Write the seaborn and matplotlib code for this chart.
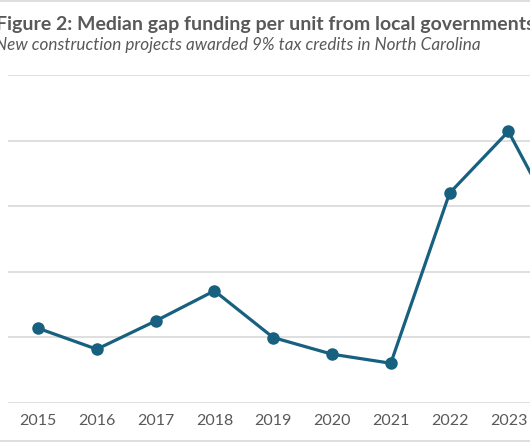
import matplotlib
matplotlib.use("Agg")
import matplotlib.pyplot as plt
from matplotlib.lines import Line2D
import pandas as pd
import seaborn as sns

# values (y axis labels are cropped away; assumed $5,000 grid steps)
years = [2015, 2016, 2017, 2018, 2019, 2020, 2021, 2022, 2023, 2024]
median_gap = [5700, 4100, 6250, 8550, 4990, 3720, 3030, 16000, 20700, 12300]
# 2024 falls past the right edge of the crop, so only these labels show
tick_years = [2015, 2016, 2017, 2018, 2019, 2020, 2021, 2022, 2023]
tick_labels = ["2015", "2016", "2017", "2018", "2019", "2020", "2021", "2022", "2023"]

title = "Figure 2: Median gap funding per unit from local governments"
subtitle = "New construction projects awarded 9% tax credits in North Carolina"

LINE = "#17607f"
GRID = "#d9d9d9"
TEXT = "#595959"

def main():
    sns.set_style("white")
    plt.rcParams['font.family'] = ['Lato', 'DejaVu Sans']

    df = pd.DataFrame({"year": years, "value": median_gap})

    W, H = 530, 442
    fig = plt.figure(figsize=(W / 100, H / 100), dpi=100)

    # axes run past the right edge, like the cropped original
    ax = fig.add_axes([8 / W, 39 / H, 588.6 / W, 328 / H])
    sns.lineplot(data=df, x="year", y="value", ax=ax, color=LINE,
                 linewidth=2.3, marker="o", markersize=9,
                 markeredgewidth=0, clip_on=False)

    ax.set_xlim(2014.49, 2024.5)
    ax.set_ylim(0, 25000)
    ax.set_yticks(range(0, 25001, 5000))
    ax.set_yticklabels([])
    ax.yaxis.grid(True, color=GRID, linewidth=1.2)
    ax.set_axisbelow(True)
    ax.set_xticks(tick_years)
    ax.set_xticklabels(tick_labels)
    ax.tick_params(axis="x", length=0, pad=8, labelsize=11.5, labelcolor=TEXT)
    ax.tick_params(axis="y", length=0)
    ax.set_xlabel("")
    ax.set_ylabel("")
    for s in ax.spines.values():
        s.set_visible(False)

    fig.text(-4 / W, 1 - 16 / H, title, fontsize=14.0, fontweight="bold",
             color=TEXT, va="top", ha="left")
    fig.text(-5 / W, 1 - 37 / H, subtitle, fontsize=12.3, style="italic",
             color=TEXT, va="top", ha="left")

    # light frame lines at top and bottom of the crop
    fig.add_artist(Line2D([0, 1], [1 - 0.5 / H, 1 - 0.5 / H], color=GRID, linewidth=1.2))
    fig.add_artist(Line2D([0, 1], [1.5 / H, 1.5 / H], color=GRID, linewidth=1.2))

    fig.savefig("out.png", dpi=100)
    plt.close(fig)

if __name__ == "__main__":
    main()
